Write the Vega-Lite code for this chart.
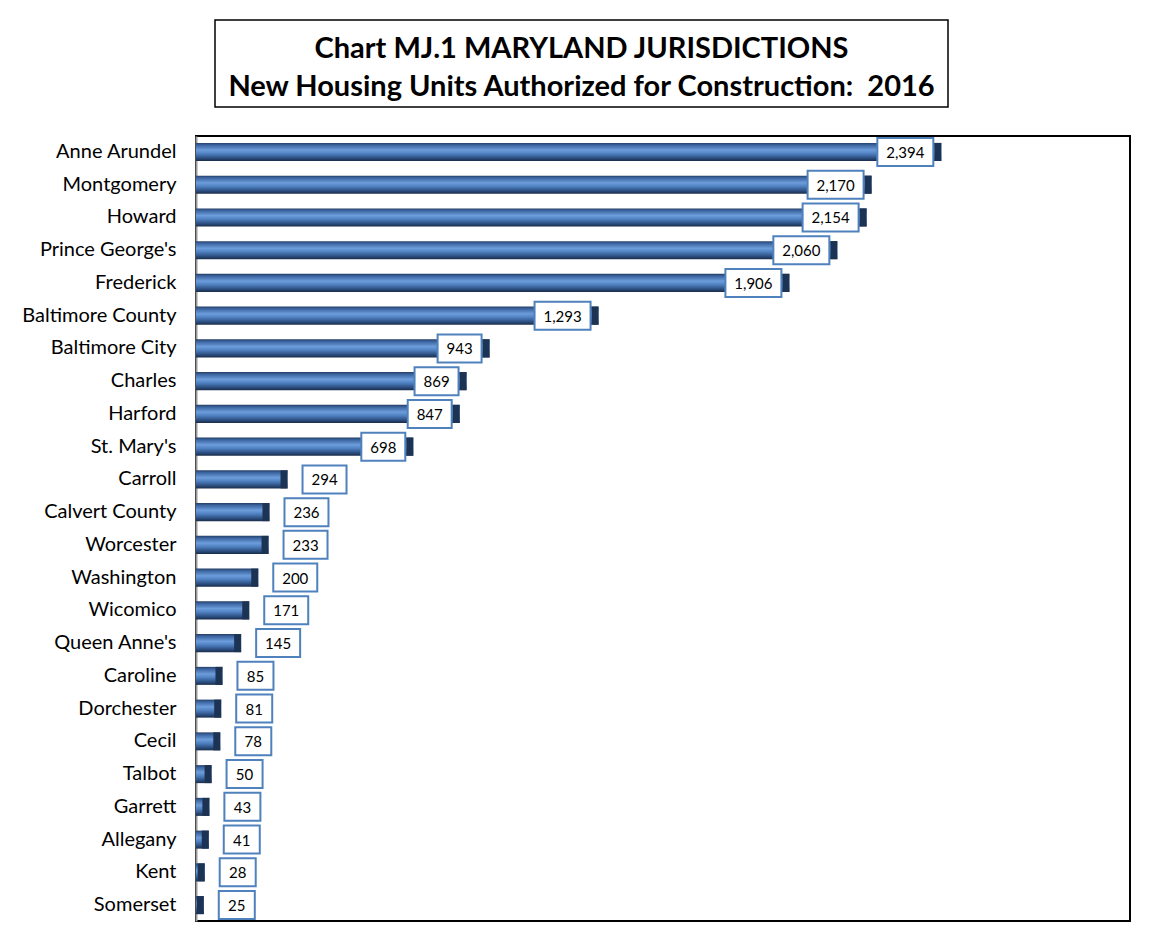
{
  "$schema": "https://vega.github.io/schema/vega-lite/v6.json",
  "background": "white",
  "padding": {"left": 20, "top": 19, "right": 10, "bottom": 5},
  "spacing": 24,
  "config": {"font": "Lato"},
  "datasets": {
    "housing": [
      {"jurisdiction": "Anne Arundel", "units": 2394},
      {"jurisdiction": "Montgomery", "units": 2170},
      {"jurisdiction": "Howard\u00a0", "units": 2154},
      {"jurisdiction": "Prince George's", "units": 2060},
      {"jurisdiction": "Frederick", "units": 1906},
      {"jurisdiction": "Baltimore County", "units": 1293},
      {"jurisdiction": "Baltimore City", "units": 943},
      {"jurisdiction": "Charles", "units": 869},
      {"jurisdiction": "Harford", "units": 847},
      {"jurisdiction": "St. Mary's", "units": 698},
      {"jurisdiction": "Carroll\u00a0", "units": 294},
      {"jurisdiction": "Calvert County", "units": 236},
      {"jurisdiction": "Worcester", "units": 233},
      {"jurisdiction": "Washington", "units": 200},
      {"jurisdiction": "Wicomico", "units": 171},
      {"jurisdiction": "Queen Anne's", "units": 145},
      {"jurisdiction": "Caroline", "units": 85},
      {"jurisdiction": "Dorchester", "units": 81},
      {"jurisdiction": "Cecil", "units": 78},
      {"jurisdiction": "Talbot", "units": 50},
      {"jurisdiction": "Garrett\u00a0", "units": 43},
      {"jurisdiction": "Allegany", "units": 41},
      {"jurisdiction": "Kent", "units": 28},
      {"jurisdiction": "Somerset", "units": 25}
    ]
  },
  "vconcat": [
    {
      "spacing": 0,
      "hconcat": [
        {
          "width": 18,
          "height": 87,
          "view": {"stroke": null},
          "data": {"values": [{}]},
          "mark": {"type": "text", "text": " "},
          "encoding": {}
        },
        {
          "width": 733,
          "height": 87,
          "view": {"stroke": "black", "strokeWidth": 1.5},
          "data": {"values": [{}]},
          "mark": {
            "type": "text",
            "text": ["Chart MJ.1 MARYLAND JURISDICTIONS", "New Housing Units Authorized for Construction:\u00a0 2016"],
            "font": "Lato",
            "fontWeight": "bold",
            "fontSize": 29,
            "lineHeight": 38,
            "align": "center",
            "baseline": "middle",
            "color": "black",
            "dy": -15
          },
          "encoding": {}
        }
      ]
    },
    {
      "width": 934,
      "height": 785,
      "view": {"stroke": "black", "strokeWidth": 2},
      "data": {"name": "housing"},
      "encoding": {
        "y": {
          "field": "jurisdiction",
          "type": "nominal",
          "sort": null,
          "title": null,
          "scale": {"paddingInner": 0.45, "paddingOuter": 0.21},
          "axis": {
            "domain": true,
            "domainColor": "#9a9a9a",
            "domainWidth": 2,
            "ticks": false,
            "labelPadding": 20,
            "labelFontSize": 20,
            "labelFont": "Lato",
            "labelColor": "black",
            "labelLimit": 300
          }
        },
        "x": {
          "field": "units",
          "type": "quantitative",
          "scale": {"domain": [0, 3000], "nice": false},
          "axis": null
        }
      },
      "layer": [
        {
          "mark": {
            "type": "bar",
            "fill": {
              "gradient": "linear",
              "x1": 0, "y1": 0, "x2": 0, "y2": 1,
              "stops": [
                {"offset": 0, "color": "#263f66"},
                {"offset": 0.12, "color": "#3a64a0"},
                {"offset": 0.4, "color": "#6d9ddb"},
                {"offset": 0.6, "color": "#4f80c0"},
                {"offset": 0.85, "color": "#2b4d7f"},
                {"offset": 1, "color": "#1a2d4b"}
              ]
            }
          }
        },
        {
          "mark": {"type": "tick", "orient": "vertical", "thickness": 7, "size": 18, "color": "#1d3354", "xOffset": -3.5, "opacity": 1}
        },
        {
          "transform": [{"filter": "datum.units >= 1000"}],
          "layer": [
            {
              "mark": {"type": "point", "shape": "M-2,-1H2V1H-2Z", "size": 784, "filled": true, "fill": "white", "stroke": "#4f81bd", "strokeWidth": 2, "opacity": 1, "xOffset": -36}
            },
            {
              "mark": {"type": "text", "fontSize": 15, "font": "Lato", "color": "black", "xOffset": -36, "dy": 1},
              "encoding": {"text": {"field": "units", "type": "quantitative", "format": ","}}
            }
          ]
        },
        {
          "transform": [{"filter": "datum.units >= 500 && datum.units < 1000"}],
          "layer": [
            {
              "mark": {"type": "point", "shape": "M-1.571,-1H1.571V1H-1.571Z", "size": 784, "filled": true, "fill": "white", "stroke": "#4f81bd", "strokeWidth": 2, "opacity": 1, "xOffset": -30}
            },
            {
              "mark": {"type": "text", "fontSize": 15, "font": "Lato", "color": "black", "xOffset": -30, "dy": 1},
              "encoding": {"text": {"field": "units", "type": "quantitative", "format": ","}}
            }
          ]
        },
        {
          "transform": [{"filter": "datum.units >= 100 && datum.units < 500"}],
          "layer": [
            {
              "mark": {"type": "point", "shape": "M-1.571,-1H1.571V1H-1.571Z", "size": 784, "filled": true, "fill": "white", "stroke": "#4f81bd", "strokeWidth": 2, "opacity": 1, "xOffset": 37}
            },
            {
              "mark": {"type": "text", "fontSize": 15, "font": "Lato", "color": "black", "xOffset": 37, "dy": 1},
              "encoding": {"text": {"field": "units", "type": "quantitative", "format": ","}}
            }
          ]
        },
        {
          "transform": [{"filter": "datum.units < 100"}],
          "layer": [
            {
              "mark": {"type": "point", "shape": "M-1.286,-1H1.286V1H-1.286Z", "size": 784, "filled": true, "fill": "white", "stroke": "#4f81bd", "strokeWidth": 2, "opacity": 1, "xOffset": 33}
            },
            {
              "mark": {"type": "text", "fontSize": 15, "font": "Lato", "color": "black", "xOffset": 33, "dy": 1},
              "encoding": {"text": {"field": "units", "type": "quantitative", "format": ","}}
            }
          ]
        }
      ]
    }
  ]
}
